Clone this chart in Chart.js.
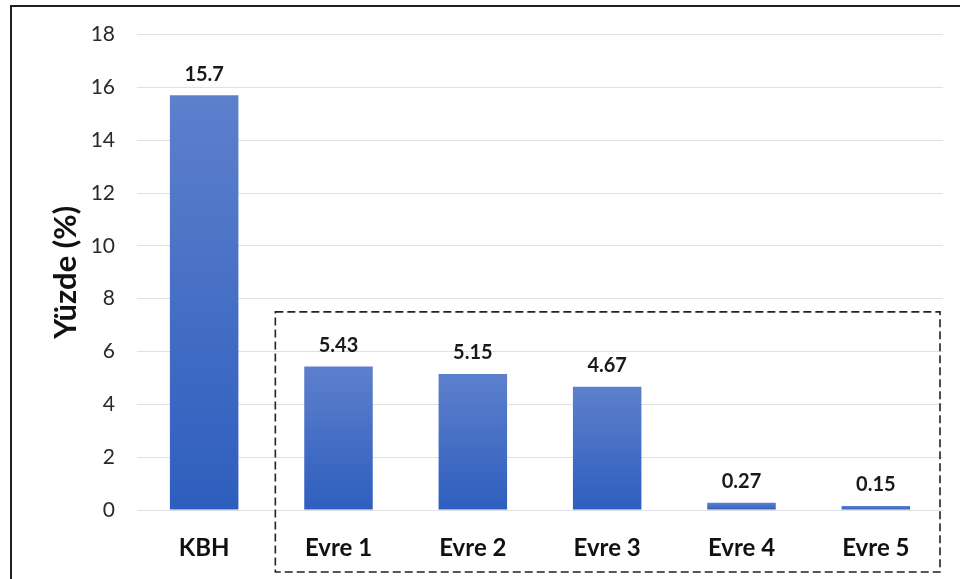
<!DOCTYPE html>
<html>
<head>
<meta charset="utf-8">
<style>
  html, body { margin: 0; padding: 0; background: #ffffff; }
  #wrap { width: 960px; height: 579px; position: relative; }
</style>
<script src="https://cdn.jsdelivr.net/npm/chart.js@4/dist/chart.umd.min.js"></script>
</head>
<body>
<div id="wrap"><canvas id="chart" width="960" height="579"></canvas></div>
<script>
// Categories and percentages
const categories = ['KBH', 'Evre 1', 'Evre 2', 'Evre 3', 'Evre 4', 'Evre 5'];
const percentages = [15.7, 5.43, 5.15, 4.67, 0.27, 0.15];
const yTicks = [0, 2, 4, 6, 8, 10, 12, 14, 16, 18];
const yTitle = 'Yüzde (%)';
// Value at which the dashed grouping frame around the stages starts
const stageFrameTop = 7.5;

const FONT = 'Lato, "Liberation Sans", sans-serif';

// Per-bar vertical gradient: lighter blue at the top, deeper at the base
function barGradient(ctx) {
  const chart = ctx.chart;
  const y = chart.scales && chart.scales.y;
  if (!chart.chartArea || !y || ctx.parsed == null) return '#4A72C4';
  const top = y.getPixelForValue(ctx.parsed.y);
  const base = y.getPixelForValue(0);
  const g = chart.ctx.createLinearGradient(0, top, 0, base);
  g.addColorStop(0, '#5D80CC');
  g.addColorStop(1, '#2E5EBE');
  return g;
}

// Bold value labels above each bar
const valueLabels = {
  id: 'valueLabels',
  afterDatasetsDraw(chart) {
    const ctx = chart.ctx;
    const meta = chart.getDatasetMeta(0);
    ctx.save();
    ctx.font = 'bold 20px ' + FONT;
    ctx.fillStyle = '#1a1a1a';
    ctx.textAlign = 'center';
    ctx.textBaseline = 'middle';
    meta.data.forEach((bar, i) => {
      ctx.fillText(String(percentages[i]), bar.x, bar.y - 21);
    });
    ctx.restore();
  }
};

// Outer frame (top and left edges) and the dashed frame grouping the stages
const frames = {
  id: 'frames',
  afterDraw(chart) {
    const ctx = chart.ctx;
    const x = chart.scales.x, y = chart.scales.y;
    ctx.save();
    ctx.strokeStyle = '#1f1f1f';
    ctx.lineWidth = 2;
    ctx.beginPath();
    ctx.moveTo(11, chart.height);
    ctx.lineTo(11, 6);
    ctx.lineTo(chart.width, 6);
    ctx.stroke();

    const left = (x.getPixelForTick(0) + x.getPixelForTick(1)) / 2 + 4;
    const right = chart.chartArea.right - 3;
    const top = y.getPixelForValue(stageFrameTop);
    const bottom = chart.height - 7;
    ctx.strokeStyle = '#222';
    ctx.lineWidth = 1.6;
    ctx.setLineDash([8, 4]);
    ctx.strokeRect(left, top, right - left, bottom - top);
    ctx.restore();
  }
};

new Chart(document.getElementById('chart'), {
  type: 'bar',
  data: {
    labels: categories,
    datasets: [{
      data: percentages,
      backgroundColor: barGradient,
      borderWidth: 0,
      barPercentage: 0.51,
      categoryPercentage: 1.0
    }]
  },
  options: {
    responsive: false,
    animation: false,
    devicePixelRatio: 1,
    layout: { padding: { left: 10, right: 17, top: 33, bottom: 0 } },
    plugins: {
      legend: { display: false },
      tooltip: { enabled: false }
    },
    scales: {
      x: {
        grid: { display: false, drawTicks: false },
        border: { display: false },
        ticks: {
          padding: 24,
          color: '#111',
          font: { family: FONT, size: 24, weight: 'bold' }
        },
        afterFit(scale) { scale.height = 69; }
      },
      y: {
        min: 0,
        max: 18,
        afterBuildTicks(scale) { scale.ticks = yTicks.map(v => ({ value: v })); },
        grid: { color: '#DFE1E6', lineWidth: 1, drawTicks: false },
        border: { display: false },
        ticks: {
          padding: 22,
          color: '#2a2a2a',
          font: { family: FONT, size: 21 }
        },
        title: {
          display: true,
          text: yTitle,
          color: '#111',
          font: { family: FONT, size: 31, weight: 'bold' },
          padding: { top: 37, bottom: 0 }
        },
        afterFit(scale) { scale.width = 127; }
      }
    }
  },
  plugins: [valueLabels, frames]
});
</script>
</body>
</html>
